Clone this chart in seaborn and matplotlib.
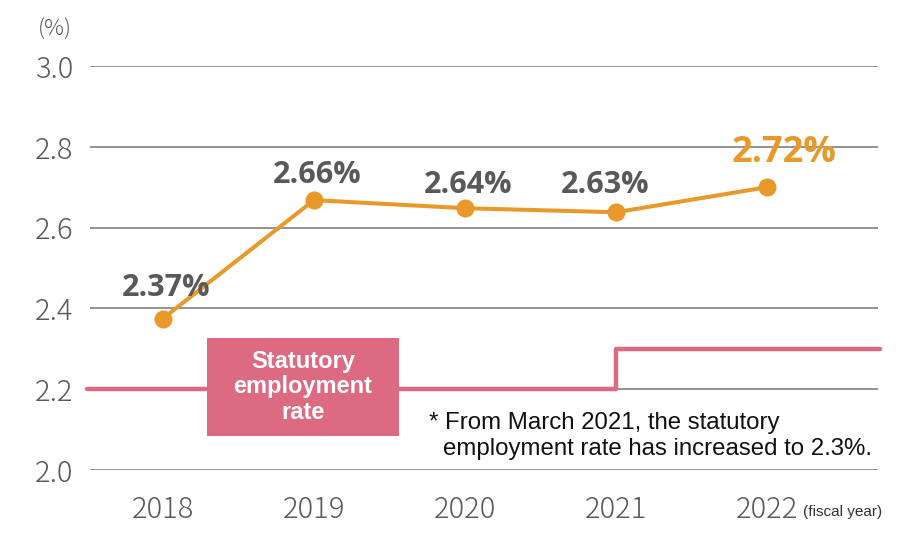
import matplotlib
matplotlib.use("Agg")
import matplotlib.pyplot as plt
import matplotlib.patches as patches
import pandas as pd
import seaborn as sns

# data
years = [2018, 2019, 2020, 2021, 2022]
rate_points = [2.375, 2.668, 2.648, 2.638, 2.70]
rate_labels = ["2.37%", "2.66%", "2.64%", "2.63%", "2.72%"]
statutory_years = [2017.5, 2021, 2022.75]
statutory_rate = [2.2, 2.3, 2.3]
yticks = [2.0, 2.2, 2.4, 2.6, 2.8, 3.0]

orange = "#e8992a"
pink = "#dc6a80"
gray_txt = "#595959"

sns.set_theme(style="white")
plt.rcParams["font.family"] = ["Open Sans", "DejaVu Sans"]

df = pd.DataFrame({"year": years, "rate": rate_points})
stat = pd.DataFrame({"year": statutory_years, "rate": statutory_rate})

fig = plt.figure(figsize=(9.1, 5.48), dpi=100)
ax = fig.add_axes([90 / 910, 1 - 470 / 548, 788 / 910, 404 / 548])

# statutory rate (step)
sns.lineplot(data=stat, x="year", y="rate", ax=ax, color=pink, linewidth=3.2,
             drawstyle="steps-post", zorder=3, clip_on=False,
             solid_capstyle="round")
# actual employment rate
sns.lineplot(data=df, x="year", y="rate", ax=ax, color=orange, linewidth=2.9,
             marker="o", markersize=13, markeredgewidth=0, zorder=4, clip_on=False)

ax.set_xlim(2017.517, 2022.735)
ax.set_ylim(2.0, 3.0)
ax.set_yticks(yticks)
tick_font = ["Noto Sans CJK JP", "DejaVu Sans"]
ax.set_yticklabels([f"{v:.1f}" for v in yticks], fontsize=21, color=gray_txt,
                   fontweight="light", family=tick_font)
ax.set_xticks(years)
ax.set_xticklabels([str(y) for y in years], fontsize=21, color=gray_txt,
                   fontweight="light", family=tick_font)
ax.tick_params(axis="y", length=0, pad=12)
ax.tick_params(axis="x", length=0, pad=18)
ax.set_xlabel("")
ax.set_ylabel("")
for s in ax.spines.values():
    s.set_visible(False)
ax.yaxis.grid(True, color="#808080", linewidth=1.2, zorder=0)
ax.set_axisbelow(True)

# value labels (baseline offsets from each point)
offsets = [(2, 16), (2, 12.5), (2, 11), (-8, 14), (12, 18)]
for i, (yr, v, lab) in enumerate(zip(years, rate_points, rate_labels)):
    last = i == len(years) - 1
    ax.annotate(lab, (yr, v), xytext=offsets[i], textcoords="offset points",
                ha="center", va="baseline", fontsize=26 if last else 22,
                fontweight="bold", color=orange if last else gray_txt, zorder=6)

# statutory label box
ax.add_patch(patches.Rectangle((117 / 788, 34 / 404), 192 / 788, 98 / 404,
                               transform=ax.transAxes, facecolor=pink,
                               edgecolor="none", zorder=5, clip_on=False))
ax.text(213 / 788, 83 / 404, "Statutory\nemployment\nrate", transform=ax.transAxes,
        ha="center", va="center", fontsize=17, fontweight="bold", color="white",
        family="Liberation Sans", linespacing=1.15, zorder=6)

# footnote and unit labels
fig.text(429 / 910, 1 - 423 / 548, "* From March 2021, the statutory",
         fontsize=17.3, color="#111111", family="Liberation Sans", va="center")
fig.text(443 / 910, 1 - 449 / 548, "employment rate has increased to 2.3%.",
         fontsize=17.3, color="#111111", family="Liberation Sans", va="center")
fig.text(55 / 910, 1 - 30 / 548, "(%)", fontsize=16, color=gray_txt,
         ha="center", va="center", family=tick_font, fontweight="light")
fig.text(803 / 910, 1 - 512 / 548, "(fiscal year)", fontsize=11, color="#333333",
         ha="left", va="center", family="Liberation Sans")

fig.savefig("out.png", dpi=100, facecolor="white")
